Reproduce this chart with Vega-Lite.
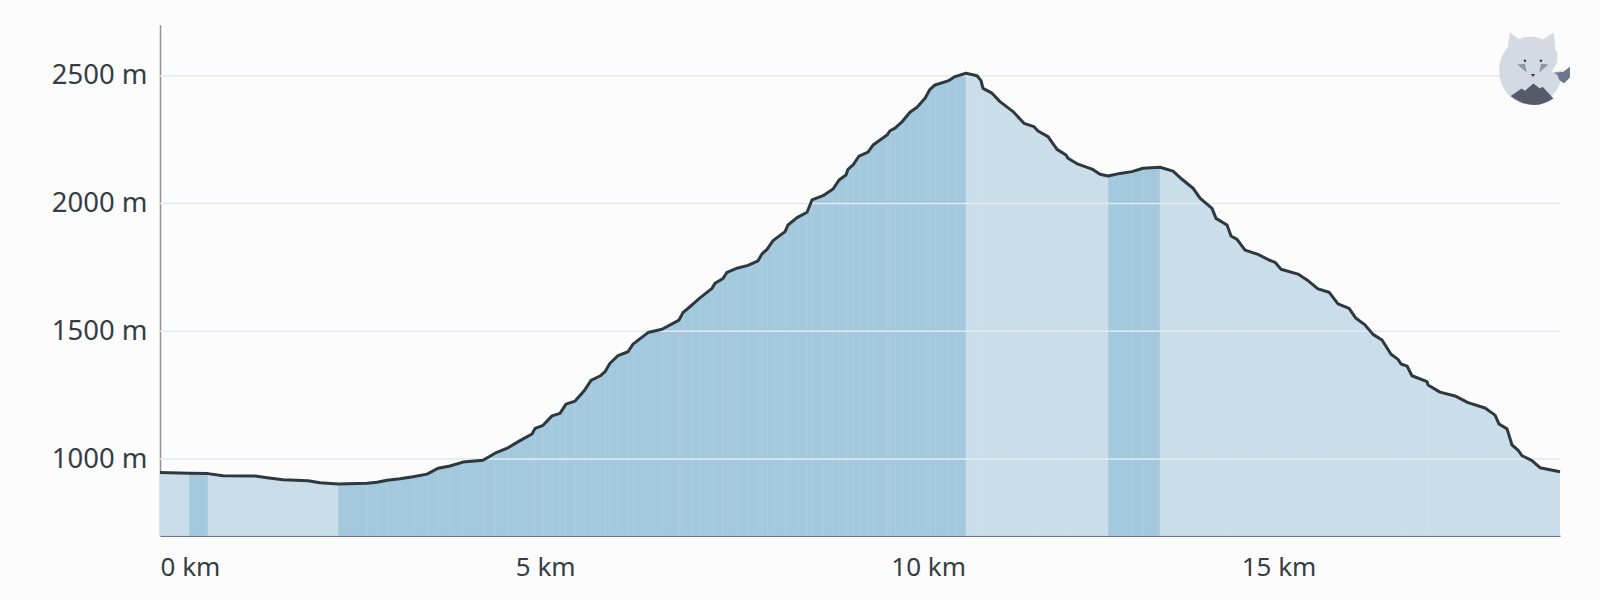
{
  "$schema": "https://vega.github.io/schema/vega-lite/v6.json",
  "width": 1400,
  "height": 511,
  "autosize": "none",
  "padding": {"left": 160, "top": 24.7, "right": 40, "bottom": 64.3},
  "background": "#fcfcfc",
  "view": {"stroke": null},
  "config": {"font": "Noto Sans"},
  "datasets": {
    "profile": [
      {"km":0,"ele":947,"seg":0,"slope":"down"},{"km":0.392,"ele":944,"seg":0,"slope":"down"},
      {"km":0.392,"ele":944,"seg":1,"slope":"up"},{"km":0.648,"ele":943,"seg":1,"slope":"up"},
      {"km":0.648,"ele":943,"seg":2,"slope":"down"},{"km":0.851,"ele":935,"seg":2,"slope":"down"},
      {"km":1.283,"ele":934,"seg":2,"slope":"down"},{"km":1.445,"ele":927,"seg":2,"slope":"down"},
      {"km":1.661,"ele":919,"seg":2,"slope":"down"},{"km":1.998,"ele":915,"seg":2,"slope":"down"},
      {"km":2.16,"ele":907,"seg":2,"slope":"down"},{"km":2.403,"ele":902,"seg":2,"slope":"down"},
      {"km":2.403,"ele":902,"seg":3,"slope":"up"},{"km":2.795,"ele":905,"seg":3,"slope":"up"},
      {"km":2.93,"ele":909,"seg":3,"slope":"up"},{"km":3.065,"ele":917,"seg":3,"slope":"up"},
      {"km":3.24,"ele":923,"seg":3,"slope":"up"},{"km":3.416,"ele":931,"seg":3,"slope":"up"},
      {"km":3.605,"ele":941,"seg":3,"slope":"up"},{"km":3.753,"ele":964,"seg":3,"slope":"up"},
      {"km":3.915,"ele":973,"seg":3,"slope":"up"},{"km":4.09,"ele":988,"seg":3,"slope":"up"},
      {"km":4.361,"ele":995,"seg":3,"slope":"up"},{"km":4.523,"ele":1023,"seg":3,"slope":"up"},
      {"km":4.698,"ele":1044,"seg":3,"slope":"up"},{"km":4.86,"ele":1072,"seg":3,"slope":"up"},
      {"km":5.022,"ele":1098,"seg":3,"slope":"up"},{"km":5.063,"ele":1120,"seg":3,"slope":"up"},
      {"km":5.171,"ele":1132,"seg":3,"slope":"up"},{"km":5.292,"ele":1169,"seg":3,"slope":"up"},
      {"km":5.4,"ele":1179,"seg":3,"slope":"up"},{"km":5.481,"ele":1215,"seg":3,"slope":"up"},
      {"km":5.603,"ele":1227,"seg":3,"slope":"up"},{"km":5.724,"ele":1266,"seg":3,"slope":"up"},
      {"km":5.819,"ele":1308,"seg":3,"slope":"up"},{"km":5.94,"ele":1325,"seg":3,"slope":"up"},
      {"km":6.008,"ele":1342,"seg":3,"slope":"up"},{"km":6.075,"ele":1375,"seg":3,"slope":"up"},
      {"km":6.183,"ele":1405,"seg":3,"slope":"up"},{"km":6.318,"ele":1420,"seg":3,"slope":"up"},
      {"km":6.386,"ele":1450,"seg":3,"slope":"up"},{"km":6.588,"ele":1495,"seg":3,"slope":"up"},
      {"km":6.777,"ele":1508,"seg":3,"slope":"up"},{"km":7.007,"ele":1544,"seg":3,"slope":"up"},
      {"km":7.06,"ele":1573,"seg":3,"slope":"up"},{"km":7.182,"ele":1603,"seg":3,"slope":"up"},
      {"km":7.29,"ele":1631,"seg":3,"slope":"up"},{"km":7.452,"ele":1668,"seg":3,"slope":"up"},
      {"km":7.493,"ele":1688,"seg":3,"slope":"up"},{"km":7.601,"ele":1707,"seg":3,"slope":"up"},
      {"km":7.655,"ele":1731,"seg":3,"slope":"up"},{"km":7.79,"ele":1747,"seg":3,"slope":"up"},
      {"km":7.938,"ele":1758,"seg":3,"slope":"up"},{"km":8.073,"ele":1776,"seg":3,"slope":"up"},
      {"km":8.127,"ele":1803,"seg":3,"slope":"up"},{"km":8.195,"ele":1821,"seg":3,"slope":"up"},
      {"km":8.276,"ele":1855,"seg":3,"slope":"up"},{"km":8.438,"ele":1890,"seg":3,"slope":"up"},
      {"km":8.478,"ele":1916,"seg":3,"slope":"up"},{"km":8.6,"ele":1945,"seg":3,"slope":"up"},
      {"km":8.735,"ele":1966,"seg":3,"slope":"up"},{"km":8.802,"ele":2014,"seg":3,"slope":"up"},
      {"km":8.951,"ele":2031,"seg":3,"slope":"up"},{"km":9.086,"ele":2057,"seg":3,"slope":"up"},
      {"km":9.167,"ele":2092,"seg":3,"slope":"up"},{"km":9.261,"ele":2112,"seg":3,"slope":"up"},
      {"km":9.288,"ele":2134,"seg":3,"slope":"up"},{"km":9.356,"ele":2151,"seg":3,"slope":"up"},
      {"km":9.437,"ele":2186,"seg":3,"slope":"up"},{"km":9.558,"ele":2201,"seg":3,"slope":"up"},
      {"km":9.626,"ele":2229,"seg":3,"slope":"up"},{"km":9.815,"ele":2268,"seg":3,"slope":"up"},
      {"km":9.855,"ele":2285,"seg":3,"slope":"up"},{"km":9.923,"ele":2295,"seg":3,"slope":"up"},
      {"km":10.017,"ele":2320,"seg":3,"slope":"up"},{"km":10.125,"ele":2357,"seg":3,"slope":"up"},
      {"km":10.22,"ele":2377,"seg":3,"slope":"up"},{"km":10.328,"ele":2412,"seg":3,"slope":"up"},
      {"km":10.395,"ele":2447,"seg":3,"slope":"up"},{"km":10.463,"ele":2464,"seg":3,"slope":"up"},
      {"km":10.638,"ele":2480,"seg":3,"slope":"up"},{"km":10.733,"ele":2497,"seg":3,"slope":"up"},
      {"km":10.881,"ele":2510,"seg":3,"slope":"up"},
      {"km":10.881,"ele":2510,"seg":4,"slope":"down"},{"km":11.03,"ele":2500,"seg":4,"slope":"down"},
      {"km":11.084,"ele":2481,"seg":4,"slope":"down"},{"km":11.11,"ele":2451,"seg":4,"slope":"down"},
      {"km":11.232,"ele":2432,"seg":4,"slope":"down"},{"km":11.34,"ele":2399,"seg":4,"slope":"down"},
      {"km":11.516,"ele":2360,"seg":4,"slope":"down"},{"km":11.664,"ele":2314,"seg":4,"slope":"down"},
      {"km":11.799,"ele":2301,"seg":4,"slope":"down"},{"km":11.853,"ele":2284,"seg":4,"slope":"down"},
      {"km":11.988,"ele":2262,"seg":4,"slope":"down"},{"km":12.11,"ele":2212,"seg":4,"slope":"down"},
      {"km":12.231,"ele":2190,"seg":4,"slope":"down"},{"km":12.258,"ele":2177,"seg":4,"slope":"down"},
      {"km":12.393,"ele":2154,"seg":4,"slope":"down"},{"km":12.582,"ele":2135,"seg":4,"slope":"down"},
      {"km":12.69,"ele":2115,"seg":4,"slope":"down"},{"km":12.798,"ele":2108,"seg":4,"slope":"down"},
      {"km":12.798,"ele":2108,"seg":5,"slope":"up"},{"km":12.96,"ele":2118,"seg":5,"slope":"up"},
      {"km":13.122,"ele":2125,"seg":5,"slope":"up"},{"km":13.271,"ele":2138,"seg":5,"slope":"up"},
      {"km":13.5,"ele":2142,"seg":5,"slope":"up"},
      {"km":13.5,"ele":2142,"seg":6,"slope":"down"},{"km":13.676,"ele":2127,"seg":6,"slope":"down"},
      {"km":13.797,"ele":2095,"seg":6,"slope":"down"},{"km":13.946,"ele":2060,"seg":6,"slope":"down"},
      {"km":14.04,"ele":2021,"seg":6,"slope":"down"},{"km":14.202,"ele":1981,"seg":6,"slope":"down"},
      {"km":14.256,"ele":1942,"seg":6,"slope":"down"},{"km":14.405,"ele":1916,"seg":6,"slope":"down"},
      {"km":14.459,"ele":1873,"seg":6,"slope":"down"},{"km":14.54,"ele":1860,"seg":6,"slope":"down"},
      {"km":14.648,"ele":1818,"seg":6,"slope":"down"},{"km":14.823,"ele":1801,"seg":6,"slope":"down"},
      {"km":14.972,"ele":1779,"seg":6,"slope":"down"},{"km":15.053,"ele":1770,"seg":6,"slope":"down"},
      {"km":15.134,"ele":1743,"seg":6,"slope":"down"},{"km":15.363,"ele":1724,"seg":6,"slope":"down"},
      {"km":15.485,"ele":1701,"seg":6,"slope":"down"},{"km":15.633,"ele":1666,"seg":6,"slope":"down"},
      {"km":15.782,"ele":1653,"seg":6,"slope":"down"},{"km":15.903,"ele":1607,"seg":6,"slope":"down"},
      {"km":16.052,"ele":1590,"seg":6,"slope":"down"},{"km":16.146,"ele":1551,"seg":6,"slope":"down"},
      {"km":16.268,"ele":1525,"seg":6,"slope":"down"},{"km":16.376,"ele":1488,"seg":6,"slope":"down"},
      {"km":16.497,"ele":1466,"seg":6,"slope":"down"},{"km":16.619,"ele":1410,"seg":6,"slope":"down"},
      {"km":16.713,"ele":1390,"seg":6,"slope":"down"},{"km":16.754,"ele":1372,"seg":6,"slope":"down"},
      {"km":16.835,"ele":1364,"seg":6,"slope":"down"},{"km":16.902,"ele":1326,"seg":6,"slope":"down"},
      {"km":17.105,"ele":1303,"seg":6,"slope":"down"},{"km":17.118,"ele":1290,"seg":6,"slope":"down"},
      {"km":17.28,"ele":1262,"seg":6,"slope":"down"},{"km":17.483,"ele":1247,"seg":6,"slope":"down"},
      {"km":17.658,"ele":1221,"seg":6,"slope":"down"},{"km":17.888,"ele":1200,"seg":6,"slope":"down"},
      {"km":18.023,"ele":1172,"seg":6,"slope":"down"},{"km":18.077,"ele":1137,"seg":6,"slope":"down"},
      {"km":18.185,"ele":1118,"seg":6,"slope":"down"},{"km":18.252,"ele":1055,"seg":6,"slope":"down"},
      {"km":18.333,"ele":1035,"seg":6,"slope":"down"},{"km":18.387,"ele":1013,"seg":6,"slope":"down"},
      {"km":18.522,"ele":994,"seg":6,"slope":"down"},{"km":18.63,"ele":966,"seg":6,"slope":"down"},
      {"km":18.9,"ele":950,"seg":6,"slope":"down"}
    ],
    "levels": [{"level":1000},{"level":1500},{"level":2000},{"level":2500}],
    "logo": [{"km":18.504,"ele":2520}]
  },
  "layer": [
    {
      "data": {"name": "profile"},
      "mark": {"type": "area", "opacity": 1},
      "encoding": {
        "x": {
          "field": "km", "type": "quantitative", "title": null,
          "scale": {"domain": [0, 18.9], "nice": false},
          "axis": {
            "values": [0, 5.2, 10.37, 15.1],
            "labelExpr": "round(datum.value / 5) * 5 + ' km'",
            "grid": false, "ticks": false, "labelFlush": true,
            "labelFontSize": 26, "labelColor": "#363e44", "labelPadding": 19,
            "domainColor": "#6f7a88", "domainWidth": 1.5
          }
        },
        "y": {
          "field": "ele", "type": "quantitative", "title": null, "stack": null,
          "scale": {"domain": [700, 2700], "nice": false, "zero": false},
          "axis": {
            "values": [1000, 1500, 2000, 2500],
            "labelExpr": "datum.value + ' m'",
            "grid": false, "ticks": false,
            "labelFontSize": 27.5, "labelColor": "#363e44", "labelPadding": 13,
            "domainColor": "#8d9199", "domainWidth": 1.5
          }
        },
        "y2": {"datum": 700},
        "detail": {"field": "seg"},
        "color": {
          "field": "slope", "type": "nominal", "legend": null,
          "scale": {"domain": ["up", "down"], "range": ["#a4c9de", "#c9deea"]}
        }
      }
    },
    {
      "data": {"name": "profile"},
      "mark": {"type": "rule", "color": "#ffffff", "opacity": 0.08, "strokeWidth": 1},
      "encoding": {
        "x": {"field": "km", "type": "quantitative", "scale": {"domain": [0, 18.9], "nice": false}},
        "y": {"field": "ele", "type": "quantitative", "scale": {"domain": [700, 2700], "nice": false, "zero": false}},
        "y2": {"datum": 700}
      }
    },
    {
      "data": {"name": "levels"},
      "mark": {"type": "rule", "color": "#e3e9ef", "strokeWidth": 1.5},
      "encoding": {
        "y": {"field": "level", "type": "quantitative", "scale": {"domain": [700, 2700], "nice": false, "zero": false}}
      }
    },
    {
      "data": {"name": "profile"},
      "mark": {"type": "line", "color": "#2f383d", "strokeWidth": 3, "strokeJoin": "round"},
      "encoding": {
        "x": {"field": "km", "type": "quantitative", "scale": {"domain": [0, 18.9], "nice": false}},
        "y": {"field": "ele", "type": "quantitative", "scale": {"domain": [700, 2700], "nice": false, "zero": false}}
      }
    },
    {
      "data": {"name": "logo"},
      "encoding": {
        "x": {"field": "km", "type": "quantitative", "scale": {"domain": [0, 18.9], "nice": false}},
        "y": {"field": "ele", "type": "quantitative", "scale": {"domain": [700, 2700], "nice": false, "zero": false}}
      },
      "layer": [
        {"mark": {"type": "point", "filled": true, "size": 4, "opacity": 1, "color": "#d5dae2",
          "shape": "M-31.5,0 A31.5,34 0 1,1 31.5,0 A31.5,34 0 1,1 -31.5,0 Z M-24,-17 L-20.7,-38.3 L-7,-28 Z M7,-28 L23.3,-38.3 L25,-17 Z"}},
        {"mark": {"type": "point", "filled": true, "size": 4, "opacity": 1, "color": "#fcfcfc",
          "shape": "M26.7,-17.3 L41,-17.3 L41,-7.3 L32.7,-0.7 L21,1.7 L26.7,-9 Z"}},
        {"mark": {"type": "point", "filled": true, "size": 4, "opacity": 1, "color": "#6c788c",
          "shape": "M23.3,2 L32.7,1 L39.3,-4 L39.3,6.7 L33.3,12.7 L28.7,9.3 L26.7,4.3 Z"}},
        {"mark": {"type": "point", "filled": true, "size": 4, "opacity": 1, "color": "#555b6b",
          "shape": "M-20,25.3 L-9,17.7 L-5.7,20 L2.7,12.7 L9.3,17.7 L12,16 L22.7,27.7 Q2,42 -20,25.3 Z"}},
        {"mark": {"type": "point", "filled": true, "size": 4, "opacity": 1, "color": "#8d96a8",
          "shape": "M-13.3,-6.3 L-5.7,-7 L-4,1.7 Z M17.7,-6.3 L10.3,-7 L8.7,1.7 Z"}},
        {"mark": {"type": "point", "filled": true, "size": 4, "opacity": 1, "color": "#3c4350",
          "shape": "M0,3.3 L4.7,3.3 L2.3,6.3 Z M-7,-10 A1.3,1.3 0 1,1 -4.4,-10 A1.3,1.3 0 1,1 -7,-10 Z M9,-10 A1.3,1.3 0 1,1 11.6,-10 A1.3,1.3 0 1,1 9,-10 Z"}}
      ]
    }
  ]
}
